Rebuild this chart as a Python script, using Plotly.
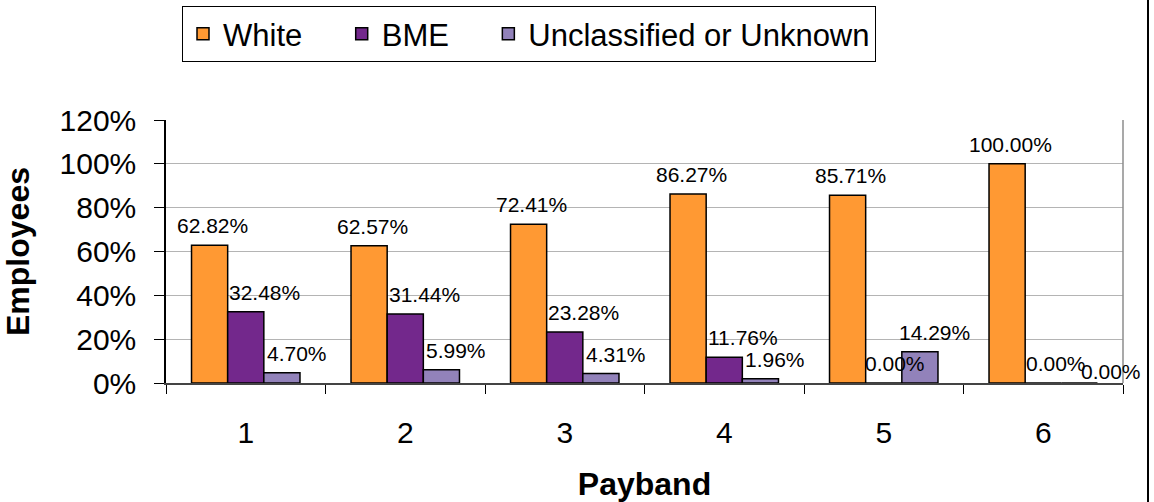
import plotly.graph_objects as go

# Share of employees in each payband, by ethnic group (percent)
paybands = ["1", "2", "3", "4", "5", "6"]
white = [62.82, 62.57, 72.41, 86.27, 85.71, 100.00]
bme = [32.48, 31.44, 23.28, 11.76, 0.00, 0.00]
unknown = [4.70, 5.99, 4.31, 1.96, 14.29, 0.00]

series = [
    ("White", white, "#FF9933"),
    ("BME", bme, "#73288C"),
    ("Unclassified or Unknown", unknown, "#9282BA"),
]

FONT = "Liberation Sans, Arial, sans-serif"
W, H = 1154, 502
ML, MR, MT, MB = 166, 31, 120, 119
plot_w = W - ML - MR
plot_h = H - MT - MB
bargap = 0.32
bar_px = plot_w / len(paybands) * (1 - bargap) / len(series)

# horizontal nudge of each series' value labels (pixels)
label_dx = [3, 19, 15]
# extra nudge for a crowded label: (series index, category index) -> (dx, dy)
label_extra = {(1, 4): (-8, 0), (1, 5): (-6, 0), (2, 5): (17, -8)}

# non-breaking spaces widen the gaps between legend entries
PAD = "\u00a0"
legend_pad = [PAD * 4, PAD * 4, ""]

fig = go.Figure()
annotations = []
for si, (name, vals, color) in enumerate(series):
    fig.add_trace(go.Bar(
        name=name + legend_pad[si], x=paybands, y=vals,
        marker=dict(color=color, line=dict(color="#000000", width=1.5)),
    ))
    offset = (si - 1) * bar_px
    for ci, v in enumerate(vals):
        ex, ey = label_extra.get((si, ci), (0, 0))
        annotations.append(dict(
            x=ci, y=v, xref="x", yref="y",
            text=f"{v:.2f}%", showarrow=False,
            xanchor="center", yanchor="bottom",
            xshift=offset + label_dx[si] + ex, yshift=6 + ey,
            font=dict(family=FONT, size=21, color="#000000"),
        ))

shapes = [
    # plot-area border (top is the 120% gridline)
    dict(type="line", xref="paper", yref="paper", x0=1, x1=1, y0=0, y1=1,
         line=dict(color="#8c8c8c", width=1.5)),
    # chart-area frame edge on the right
    dict(type="line", xref="paper", yref="paper",
         x0=(1148 - ML) / plot_w, x1=(1148 - ML) / plot_w,
         y0=-MB / plot_h, y1=(H - MB) / plot_h,
         line=dict(color="#000000", width=2)),
]

fig.update_layout(
    width=W, height=H,
    margin=dict(l=ML, r=MR, t=MT, b=MB, pad=0, autoexpand=False),
    paper_bgcolor="#ffffff", plot_bgcolor="#ffffff",
    barmode="group", bargap=bargap, bargroupgap=0,
    font=dict(family=FONT, size=30, color="#000000"),
    showlegend=True,
    legend=dict(
        orientation="h", xref="container", yref="container",
        x=182 / W, y=1 - 6 / H,
        xanchor="left", yanchor="top",
        bordercolor="#000000", borderwidth=1, bgcolor="#ffffff",
        font=dict(family=FONT, size=31, color="#000000"),
        traceorder="normal",
    ),
    annotations=annotations,
    shapes=shapes,
    xaxis=dict(
        type="category", tickson="boundaries", range=[-0.5, len(paybands) - 0.5],
        ticks="outside", ticklen=9, tickcolor="#000000", tickwidth=1,
        showline=True, linecolor="#444444", linewidth=2,
        showgrid=False, ticklabelstandoff=22,
        tickfont=dict(family=FONT, size=30),
        title=dict(text="<b>Payband</b>", standoff=26,
                   font=dict(family=FONT, size=32)),
    ),
    yaxis=dict(
        range=[0, 120], dtick=20, ticksuffix="%",
        ticks="outside", ticklen=10, tickcolor="#000000", tickwidth=1,
        showline=True, linecolor="#000000", linewidth=1.5,
        showgrid=True, gridcolor="#b4b4b4", gridwidth=1,
        zeroline=False, ticklabelstandoff=12,
        tickfont=dict(family=FONT, size=30),
        title=dict(text="<b>Employees</b>", standoff=20,
                   font=dict(family=FONT, size=32)),
    ),
)

fig.write_html("out.html")
